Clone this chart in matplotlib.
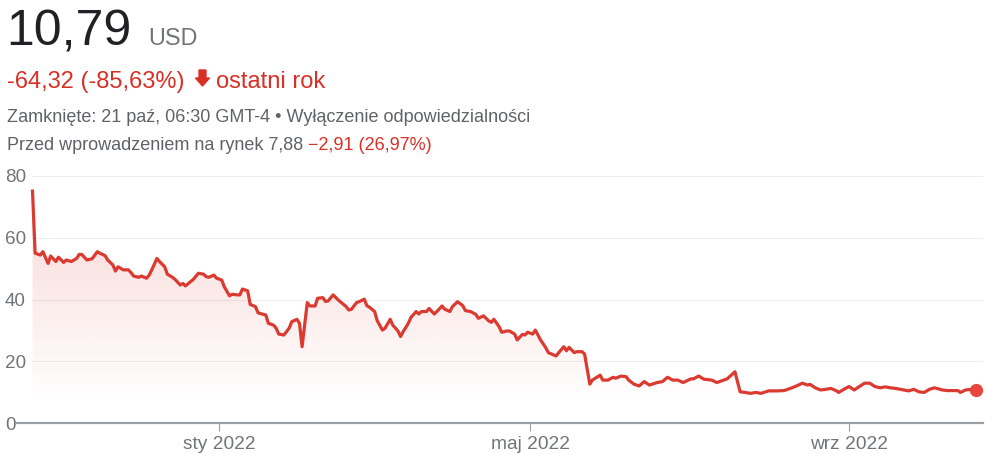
import numpy as np
import pandas as pd
import matplotlib
matplotlib.use("Agg")
import matplotlib.pyplot as plt
import matplotlib.dates as mdates

# ---------------- data ----------------
start_date = "2021-10-21"
days = [0, 1, 3, 4, 6, 7, 9, 10, 12, 13, 15, 17, 18, 19, 21, 23, 25, 26, 28, 29,
        31, 32, 33, 35, 37, 38, 39, 41, 42, 44, 45, 46, 48, 49, 51, 52, 54, 55, 57, 58,
        59, 61, 62, 64, 66, 67, 68, 70, 71, 73, 74, 76, 77, 79, 80, 81, 83, 84, 86, 87,
        89, 90, 91, 93, 94, 95, 97, 99, 100, 102, 103, 104, 106, 107, 109, 110, 112, 113, 114, 116,
        118, 119, 121, 122, 123, 125, 126, 128, 129, 130, 132, 133, 135, 136, 138, 139, 141, 142, 143, 145,
        146, 148, 149, 150, 152, 153, 155, 156, 158, 159, 161, 162, 164, 166, 167, 169, 171, 172, 174, 176,
        177, 178, 180, 181, 183, 184, 186, 187, 189, 190, 191, 193, 194, 196, 198, 199, 202, 203, 205, 206,
        207, 209, 210, 212, 213, 215, 216, 219, 220, 222, 224, 225, 227, 229, 230, 232, 234, 236, 238, 241,
        243, 245, 247, 249, 251, 254, 255, 257, 259, 262, 264, 266, 268, 271, 273, 275, 277, 279, 281, 284,
        287, 290, 293, 295, 297, 299, 300, 302, 304, 306, 308, 310, 311, 313, 315, 317, 319, 321, 323, 325,
        327, 329, 331, 333, 336, 338, 340, 342, 344, 346, 348, 351, 353, 355, 357, 358, 360, 362, 364]
prices = [75.11, 55.0, 54.4, 55.5, 51.7, 54.1, 52.3, 53.7, 52.0, 52.8, 52.3, 53.3, 54.6, 54.6, 52.8, 53.2, 55.5, 55.0, 54.2, 52.8,
          51.2, 49.2, 50.6, 49.6, 49.6, 48.7, 47.6, 47.2, 47.6, 46.9, 47.9, 49.6, 53.3, 52.3, 50.6, 48.2, 47.2, 46.5, 44.7, 45.2,
          44.4, 45.8, 46.5, 48.5, 48.2, 47.4, 47.2, 47.9, 46.9, 46.3, 44.1, 41.2, 41.7, 41.5, 41.5, 43.4, 42.8, 38.4, 37.7, 35.7,
          35.2, 35.0, 32.3, 31.7, 30.7, 28.8, 28.5, 30.7, 32.8, 33.6, 32.3, 24.7, 39.0, 37.9, 37.9, 40.4, 40.6, 39.4, 39.5, 41.5,
          39.8, 39.1, 37.7, 36.6, 36.8, 39.0, 39.3, 40.1, 38.0, 37.5, 36.1, 33.1, 30.1, 30.7, 33.6, 31.7, 29.8, 28.0, 29.6, 32.3,
          34.2, 36.1, 35.3, 36.1, 36.1, 37.1, 35.3, 36.1, 37.9, 36.9, 36.1, 37.7, 39.3, 38.0, 36.4, 36.1, 35.2, 33.9, 34.7, 33.1,
          32.6, 33.6, 31.2, 29.4, 29.8, 29.8, 28.8, 26.9, 28.7, 28.5, 29.4, 28.8, 30.1, 26.9, 24.4, 22.8, 21.7, 22.8, 24.7, 23.4,
          24.5, 22.8, 23.1, 23.1, 22.3, 12.6, 13.9, 15.5, 13.9, 13.9, 14.8, 14.5, 15.2, 15.0, 13.9, 12.6, 12.0, 13.4, 12.3, 13.1,
          13.4, 14.8, 13.9, 13.9, 13.1, 14.3, 14.3, 15.2, 14.2, 13.9, 13.1, 13.7, 14.3, 16.6, 10.1, 9.9, 9.6, 9.9, 9.6, 10.4,
          10.4, 10.5, 11.4, 12.1, 12.9, 12.3, 12.5, 11.4, 10.7, 10.9, 11.2, 10.5, 9.9, 10.9, 11.8, 10.7, 11.8, 12.9, 12.9, 11.8,
          11.4, 11.7, 11.4, 11.2, 10.7, 10.4, 10.9, 10.1, 9.9, 10.9, 11.4, 10.7, 10.5, 10.5, 10.5, 9.9, 10.7, 10.9, 10.79]
y_ticks = [0, 20, 40, 60, 80]
x_tick_dates = ["2022-01-01", "2022-05-01", "2022-09-01"]
x_tick_labels = ["sty 2022", "maj 2022", "wrz 2022"]

price_text = "10,79"
currency_text = "USD"
change_text = "-64,32 (-85,63%)"
period_text = "ostatni rok"
closed_text = "Zamknięte: 21 paź, 06:30 GMT-4 • Wyłączenie odpowiedzialności"
pre_text = "Przed wprowadzeniem na rynek 7,88 "
pre_change_text = "\u22122,91 (26,97%)"

assert len(days) == len(prices)

# ---------------- styling ----------------
RED_TEXT = "#d93025"
RED_LINE = "#db3a30"
DARK = "#202124"
GRAY = "#70757a"
GRAY_TXT = "#5f6368"
FONT = ["Liberation Sans", "DejaVu Sans"]
plt.rcParams["font.family"] = FONT

W, H = 985, 454
fig = plt.figure(figsize=(W / 100, H / 100), dpi=100)

def fy(px):
    return 1 - px / H

def fx(px):
    return px / W

# header
fig.text(fx(6), fy(45.5), price_text, fontsize=36, color=DARK, va="baseline", ha="left")
fig.text(fx(148), fy(45), currency_text, fontsize=16.8, color=GRAY, va="baseline", ha="left")
fig.text(fx(7), fy(88), change_text, fontsize=17, color=RED_TEXT, va="baseline", ha="left")
fig.text(fx(216), fy(88), period_text, fontsize=17, color=RED_TEXT, va="baseline", ha="left")
fig.patches.append(matplotlib.patches.FancyArrow(
    fx(202.5), fy(70), 0, -(86 - 70) / H, width=3.2 / H, head_width=14 / W,
    head_length=8 / H, length_includes_head=True, color=RED_TEXT,
    transform=fig.transFigure, figure=fig))

fig.text(fx(7), fy(122), closed_text, fontsize=13, color=GRAY_TXT, va="baseline", ha="left")
t = fig.text(fx(7), fy(149.5), pre_text, fontsize=13, color=GRAY_TXT, va="baseline", ha="left")
fig.canvas.draw()
bb = t.get_window_extent()
fig.text(bb.x1 / W, fy(149.5), pre_change_text, fontsize=13, color=RED_TEXT, va="baseline", ha="left")

# ---------------- chart ----------------
ax_left, ax_right, ax_top, ax_bottom = 32, 983, 176, 423
ax = fig.add_axes([fx(ax_left), fy(ax_bottom), (ax_right - ax_left) / W, (ax_bottom - ax_top) / H])

dates = pd.Timestamp(start_date) + pd.to_timedelta(days, unit="D")
xnum = mdates.date2num(dates.to_pydatetime())
x0 = mdates.date2num(pd.Timestamp(start_date).to_pydatetime())

# gradient fill under the line
poly = ax.fill_between(xnum, prices, 0, color="none", lw=0)
ys = np.linspace(0, 80, 400)
alpha = np.clip((ys - 6) / 69, 0, 1) * 0.2
rgba = np.zeros((len(ys), 1, 4))
rgb = matplotlib.colors.to_rgb(RED_LINE)
rgba[:, 0, 0], rgba[:, 0, 1], rgba[:, 0, 2] = rgb
rgba[:, 0, 3] = alpha
im = ax.imshow(rgba, extent=[0, 1, 0, 1], transform=ax.transAxes, origin="lower",
               aspect="auto", zorder=1, interpolation="bilinear")
im.set_clip_path(poly.get_paths()[0], transform=ax.transData)

ax.plot(xnum, prices, color=RED_LINE, lw=2.3, zorder=4, solid_joinstyle="round", clip_on=False)
ax.plot(xnum[-1], prices[-1], "o", color="#e8453c", ms=8.5, zorder=5, clip_on=False)

ax.set_xlim(x0 - 0.2, x0 + 366.7)
ax.set_ylim(0, 80)

for s in ax.spines.values():
    s.set_visible(False)

ax.set_yticks(y_ticks)
ax.set_yticklabels([str(v) for v in y_ticks])
ax.tick_params(axis="y", length=0, pad=19.5, labelsize=13.6, labelcolor=GRAY)
for lab in ax.get_yticklabels():
    lab.set_ha("left")
ax.grid(axis="y", color="#eeeeee", lw=0.8, zorder=0)
ax.set_axisbelow(True)

tick_nums = [mdates.date2num(pd.Timestamp(d).to_pydatetime()) for d in x_tick_dates]
ax.set_xticks(tick_nums)
ax.set_xticklabels(x_tick_labels)
ax.tick_params(axis="x", length=6, width=0.8, color="#9aa0a6", pad=3.5, labelsize=13.8, labelcolor=GRAY)

# baseline extending to the left, under the 0 label
ax.plot([(17 - ax_left) / (ax_right - ax_left), 1], [0, 0], transform=ax.get_yaxis_transform(),
        color="#9aa0a6", lw=1.6, clip_on=False, zorder=3)

fig.savefig("out.png", dpi=100)
